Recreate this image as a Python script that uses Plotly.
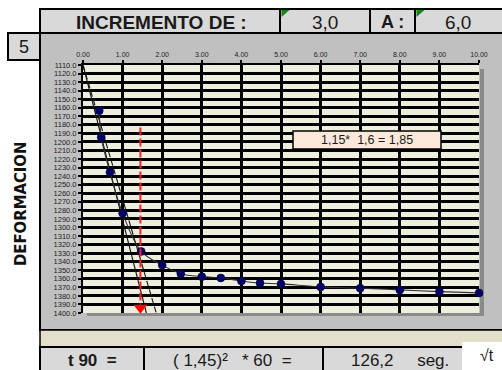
import plotly.graph_objects as go

W, H = 502, 370

# sqrt(t) readings and dial deformation
sqrt_t = [0.41, 0.46, 0.68, 1.00, 1.47, 2.00, 2.47, 3.00, 3.48, 4.00, 4.47,
          5.00, 6.00, 7.00, 8.00, 9.00, 10.00]
deform = [1163.5, 1194.5, 1235.5, 1283.5, 1328.0, 1344.0, 1354.0, 1357.5,
          1359.0, 1362.5, 1365.0, 1366.0, 1369.5, 1371.0, 1373.0, 1375.0, 1376.5]

# tangent construction
tangent_x = [0.0, 1.6]
tangent_y = [1110.0, 1400.0]
corrected_x = [0.0, 1.85]
corrected_y = [1110.0, 1400.0]
sqrt_t90 = 1.45
t90_line_y = [1183.0, 1390.0]

x_ticks = [0, 1, 2, 3, 4, 5, 6, 7, 8, 9, 10]
x_tick_text = ["%.2f" % v for v in x_ticks]
y_ticks = list(range(1110, 1401, 10))
y_tick_text = ["%.1f" % v for v in y_ticks]

FONT = "Liberation Sans"

def px(x):
    return x / W

def py(y):
    return 1 - y / H

# plot area in pixels
PL, PR, PT, PB = 83, 479, 65, 313

fig = go.Figure()

fig.add_trace(go.Scatter(x=tangent_x, y=tangent_y, mode="lines",
                         line=dict(color="#111111", width=1.1), hoverinfo="skip"))
fig.add_trace(go.Scatter(x=corrected_x, y=corrected_y, mode="lines",
                         line=dict(color="#111111", width=1.1, dash="6px,3px"),
                         hoverinfo="skip"))
fig.add_trace(go.Scatter(x=sqrt_t, y=deform, mode="lines+markers",
                         line=dict(color="#333333", width=1.1, shape="spline"),
                         marker=dict(color="#000066", size=8,
                                     line=dict(color="#000033", width=0.5)),
                         cliponaxis=False))
fig.add_trace(go.Scatter(x=[sqrt_t90, sqrt_t90], y=t90_line_y, mode="lines",
                         line=dict(color="#FF2020", width=2, dash="8px,3px")))
fig.add_trace(go.Scatter(x=[sqrt_t90], y=[1394], mode="markers",
                         marker=dict(symbol="triangle-down", color="#FF0000", size=12,
                                     line=dict(width=0)),
                         cliponaxis=False))

shapes = []

def rect(x0, y0, x1, y1, fill, lw=0, lc="black", layer="below"):
    shapes.append(dict(type="rect", xref="paper", yref="paper",
                       x0=px(x0), x1=px(x1), y0=py(y1), y1=py(y0),
                       fillcolor=fill, line=dict(width=lw, color=lc), layer=layer))

# chart frame
rect(40, 33, 503, 330, "#C0C0C0", 2)
# plot area background and its shadow
rect(PR + 1, PT + 4, PR + 5, PB + 3, "#8A8A8A")
rect(PL + 4, PB, PR + 5, PB + 3, "#8A8A8A")
rect(PL, PT, PR, PB, "#EEEEDE")
# band under the chart
rect(40, 330, 503, 347, "#E3DFCB", 1.5)
# header cells
rect(40, 9, 280, 33, "#D9D9D9", 2)
rect(280, 9, 370, 33, "#D9D9D9", 2)
rect(370, 9, 415, 33, "#D9D9D9", 2)
rect(415, 9, 503, 33, "#D9D9D9", 2)
# index box
rect(8, 33, 40, 60, "#D9D9D9", 2)
# result row
rect(40, 347, 144, 372, "#D9D9D9", 2)
rect(144, 347, 323, 372, "#D9D9D9", 2)
rect(323, 347, 503, 372, "#D9D9D9", 2)
rect(462, 342, 503, 372, "#FFFFFF", 0)

# comment markers in header cells
for cx in (281.5, 416.5):
    shapes.append(dict(type="path", xref="paper", yref="paper",
                       path="M %f %f L %f %f L %f %f Z" % (
                           px(cx), py(10), px(cx + 8), py(10), px(cx), py(17)),
                       fillcolor="#118811", line=dict(width=0), layer="above"))

# note box on the chart
rect(293, 131, 441, 149, "#FCE9DC", 1.5, layer="above")

annotations = []

def text(x, y, s, size, bold=False, color="#1A1A1A", anchor="center", angle=0,
         family=FONT):
    annotations.append(dict(xref="paper", yref="paper", x=px(x), y=py(y),
                            text=("<b>%s</b>" % s) if bold else s,
                            showarrow=False, xanchor=anchor, yanchor="middle",
                            textangle=angle,
                            font=dict(family=family, size=size, color=color)))

text(161, 22, "INCREMENTO DE :", 19, bold=True)
text(325, 22, "3,0", 19)
text(392, 22, "A :", 18, bold=True)
text(458, 22, "6,0", 19)
text(24, 47, "5", 18)
text(367, 140, "1,15*  1,6 = 1,85", 12.5)
text(20, 204, "DEFORMACION", 16.5, bold=True, angle=-90, color="#111111",
     family="DejaVu Sans Condensed, Liberation Sans Narrow, Liberation Sans")
text(92, 360, "t 90  =", 17, bold=True)
text(232, 360, "( 1,45)²   * 60  =", 17)
text(400, 360, "126,2     seg.", 17)
text(487, 355, "√t", 16)

fig.update_layout(
    width=W, height=H, margin=dict(l=0, r=0, t=0, b=0, autoexpand=False),
    paper_bgcolor="white", plot_bgcolor="rgba(0,0,0,0)",
    showlegend=False, shapes=shapes, annotations=annotations,
    xaxis=dict(domain=[px(PL), px(PR)], range=[0, 10], side="top",
               automargin=False,
               tickvals=x_ticks, ticktext=x_tick_text,
               tickfont=dict(family=FONT, size=7, color="#222222"),
               showgrid=True, gridcolor="black", gridwidth=3,
               zeroline=False, showline=True, linecolor="black", linewidth=2,
               ticks="outside", ticklen=3, tickcolor="black", tickwidth=2),
    yaxis=dict(domain=[py(PB), py(PT)], range=[1400, 1110],
               automargin=False,
               tickvals=y_ticks, ticktext=y_tick_text,
               tickfont=dict(family=FONT, size=7.5, color="#222222"),
               showgrid=True, gridcolor="black", gridwidth=2.5,
               zeroline=False, showline=True, linecolor="black", linewidth=2,
               ticks="outside", ticklen=3, tickcolor="black", tickwidth=1.5),
)

fig.write_html("out.html")
